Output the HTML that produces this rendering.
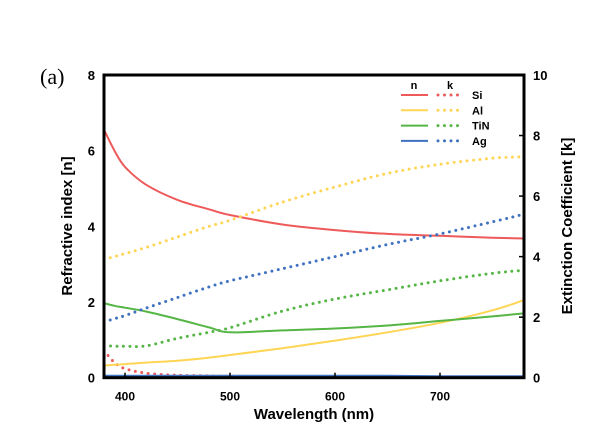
<!DOCTYPE html>
<html><head><meta charset="utf-8"><style>
html,body{margin:0;padding:0;background:#fff;}
svg text{font-family:"Liberation Sans",Arial,sans-serif;}
</style></head><body>
<svg id="chart" width="601" height="439" xmlns="http://www.w3.org/2000/svg"></svg>
<script>
const wl = [380,390,400,420,450,480,500,550,600,650,700,750,780];
const siN  = [6.55,6.0,5.57,5.1,4.7,4.45,4.3,4.05,3.9,3.8,3.75,3.7,3.68];
const siK  = [0.9,0.5,0.3,0.15,0.08,0.06,0.05,0.04,0.03,0.03,0.02,0.02,0.01];
const alN  = [0.32,0.34,0.36,0.4,0.45,0.53,0.6,0.78,0.98,1.2,1.45,1.78,2.05];
const alK  = [3.9,4.0,4.1,4.3,4.65,5.0,5.2,5.8,6.3,6.75,7.05,7.25,7.3];
const tinN = [1.97,1.9,1.85,1.75,1.55,1.33,1.2,1.25,1.3,1.38,1.5,1.62,1.7];
const tinK = [1.06,1.04,1.04,1.05,1.3,1.5,1.65,2.2,2.6,2.9,3.2,3.45,3.55];
const agN  = [0.05,0.05,0.05,0.05,0.05,0.05,0.05,0.05,0.05,0.05,0.04,0.04,0.04];
const agK  = [1.84,1.95,2.05,2.3,2.65,3.0,3.2,3.6,4.0,4.4,4.75,5.15,5.4];
const xTicks = [400,500,600,700];
const nTicks = [0,2,4,6,8];
const kTicks = [0,2,4,6,8,10];

const L=104,R=524,T=75,B=377.7;
const X=w=>L+(w-380)/(780-380)*(R-L);
const YN=v=>B-v/8*(B-T);
const YK=v=>B-v/10*(B-T);
const svg=document.getElementById('chart');
const NS='http://www.w3.org/2000/svg';
function mk(tag,attrs,txt){const e=document.createElementNS(NS,tag);for(const k in attrs)e.setAttribute(k,attrs[k]);if(txt!==undefined)e.textContent=txt;svg.appendChild(e);return e;}
function smooth(pts){
  let d='M'+pts[0][0].toFixed(1)+','+pts[0][1].toFixed(1);
  for(let i=0;i<pts.length-1;i++){
    const p0=pts[Math.max(0,i-1)],p1=pts[i],p2=pts[i+1],p3=pts[Math.min(pts.length-1,i+2)];
    const c1=[p1[0]+(p2[0]-p0[0])/6,p1[1]+(p2[1]-p0[1])/6];
    const c2=[p2[0]-(p3[0]-p1[0])/6,p2[1]-(p3[1]-p1[1])/6];
    d+=' C'+c1[0].toFixed(1)+','+c1[1].toFixed(1)+' '+c2[0].toFixed(1)+','+c2[1].toFixed(1)+' '+p2[0].toFixed(1)+','+p2[1].toFixed(1);
  }
  return d;
}

const RED='#ee5a5a',YEL='#ffd555',GRN='#55b645',BLU='#3f72c0';
const series=[
 [siN,RED,false,YN,'si-n-line'],[siK,RED,true,YK,'si-k-line'],
 [alN,YEL,false,YN,'al-n-line'],[alK,YEL,true,YK,'al-k-line'],
 [tinN,GRN,false,YN,'tin-n-line'],[tinK,GRN,true,YK,'tin-k-line'],
 [agN,BLU,false,YN,'ag-n-line'],[agK,BLU,true,YK,'ag-k-line']];
series.forEach(s=>{
  const pts=wl.map((w,i)=>[X(w),s[3](s[0][i])]);
  const a={d:smooth(pts),fill:'none',stroke:s[1],'stroke-width':s[2]?3:2};
  if(s[2]){a['stroke-dasharray']='0 6.5';a['stroke-linecap']='round';}
  const p=mk('path',a);
  
  
});
const frame=mk('rect',{x:L,y:T,width:R-L,height:B-T,fill:'none',stroke:'#000','stroke-width':3});


xTicks.forEach(t=>{
  mk('line',{x1:X(t),x2:X(t),y1:B,y2:B-5,stroke:'#000','stroke-width':1.5});
  const e=mk('text',{x:X(t),y:B+23,'text-anchor':'middle','font-size':12,'font-weight':'bold'},t);
  
  
});
nTicks.forEach(t=>{
  const e=mk('text',{x:L-9,y:YN(t)+5,'text-anchor':'end','font-size':13,'font-weight':'bold'},t);
  
  
});
kTicks.forEach(t=>{
  mk('line',{x1:R,x2:R-5,y1:YK(t),y2:YK(t),stroke:'#000','stroke-width':1.5});
  const e=mk('text',{x:R+9,y:YK(t)+5,'text-anchor':'start','font-size':13,'font-weight':'bold'},t);
  
  
});
let e;
e=mk('text',{x:314,y:419,'text-anchor':'middle','font-size':15,'font-weight':'bold'},'Wavelength (nm)');

e=mk('text',{x:0,y:0,'text-anchor':'middle','font-size':15,'font-weight':'bold',transform:'translate(72,226) rotate(-90)'},'Refractive index [n]');

e=mk('text',{x:0,y:0,'text-anchor':'middle','font-size':15,'font-weight':'bold',transform:'translate(572,226) rotate(-90)'},'Extinction Coefficient [k]');

e=mk('text',{x:40,y:84,'font-size':22,style:'font-family:"Liberation Serif",serif'},'(a)');

e=mk('text',{x:414,y:89,'text-anchor':'middle','font-size':11,'font-weight':'bold'},'n');

e=mk('text',{x:450,y:89,'text-anchor':'middle','font-size':11,'font-weight':'bold'},'k');

const legNames=['Si','Al','TiN','Ag'],legCols=[RED,YEL,GRN,BLU];
legNames.forEach((n,i)=>{
  const y=95+i*15.3;
  mk('line',{x1:401,x2:428,y1:y,y2:y,stroke:legCols[i],'stroke-width':2});
  mk('line',{x1:438,x2:464,y1:y,y2:y,stroke:legCols[i],'stroke-width':3,'stroke-dasharray':'0 6.5','stroke-linecap':'round'});
  const t=mk('text',{x:472,y:y+4,'font-size':11,'font-weight':'bold'},n);
  
  
});
</script>
</body></html>
